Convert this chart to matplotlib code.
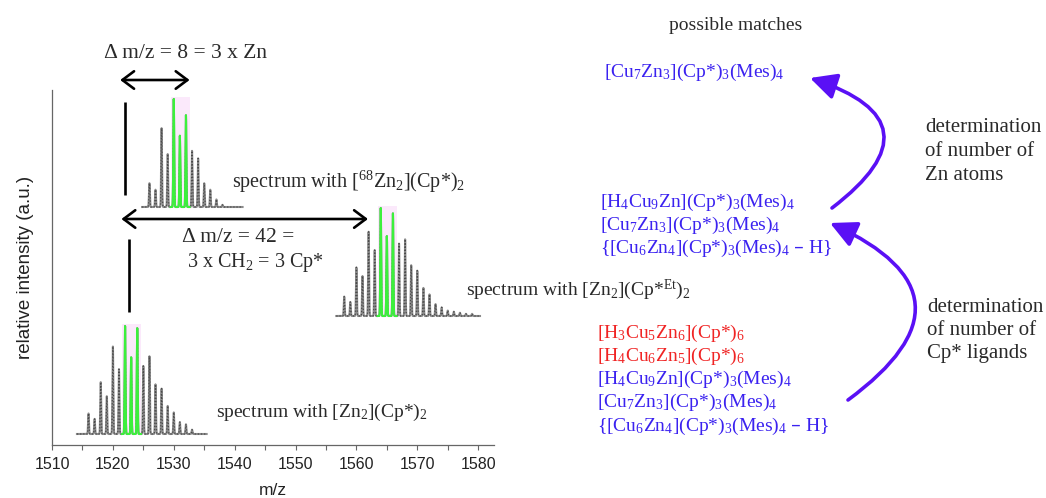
import numpy as np
import matplotlib
matplotlib.use("Agg")
import matplotlib.pyplot as plt
from matplotlib.patches import FancyArrowPatch

plt.rcParams['mathtext.default'] = 'regular'
SERIF = ['Liberation Serif', 'DejaVu Serif']
SANS = ['Liberation Sans', 'DejaVu Sans']

# ---------------- data ----------------
mz_ticks = [1510, 1520, 1530, 1540, 1550, 1560, 1570, 1580]

# [Zn2](Cp*)2  (bottom spectrum)
zn_mz = [1516, 1517, 1518, 1519, 1520, 1521, 1522, 1523, 1524, 1525,
         1526, 1527, 1528, 1529, 1530, 1531, 1532, 1533]
zn_int = [19, 14, 48, 35, 81, 60, 100, 71, 98, 63, 72, 46, 42, 26, 20, 11, 9, 4]
zn_green = [1522, 1523, 1524]

# [68Zn2](Cp*)2  (top spectrum)
zn68_mz = [1526, 1527, 1528, 1529, 1530, 1531, 1532, 1533, 1534, 1535,
           1536, 1537, 1538]
zn68_int = [22, 16, 73, 49, 100, 66, 85, 52, 45, 22, 16, 7, 2]
zn68_green = [1530, 1531, 1532]

# [Zn2](Cp*Et)2  (middle spectrum)
et_mz = [1558, 1559, 1560, 1561, 1562, 1563, 1564, 1565, 1566, 1567, 1568,
         1569, 1570, 1571, 1572, 1573, 1574, 1575, 1576, 1577, 1578, 1579]
et_int = [18, 13, 45, 37, 78, 61, 100, 74, 95, 67, 71, 47, 42, 26, 20, 11,
          8, 5, 4, 3, 2, 2]
et_green = [1564, 1565, 1566]

matches_top = ["[Cu$_7$Zn$_3$](Cp*)$_3$(Mes)$_4$"]
matches_mid = ["[H$_4$Cu$_9$Zn](Cp*)$_3$(Mes)$_4$",
               "[Cu$_7$Zn$_3$](Cp*)$_3$(Mes)$_4$",
               "{[Cu$_6$Zn$_4$](Cp*)$_3$(Mes)$_4$ \u2013 H}"]
matches_bot_red = ["[H$_3$Cu$_5$Zn$_6$](Cp*)$_6$",
                   "[H$_4$Cu$_6$Zn$_5$](Cp*)$_6$"]
matches_bot_blue = ["[H$_4$Cu$_9$Zn](Cp*)$_3$(Mes)$_4$",
                    "[Cu$_7$Zn$_3$](Cp*)$_3$(Mes)$_4$",
                    "{[Cu$_6$Zn$_4$](Cp*)$_3$(Mes)$_4$ \u2013 H}"]

# ---------------- layout ----------------
W, H = 1046, 498
fig = plt.figure(figsize=(W / 100, H / 100), dpi=100)
fig.patch.set_facecolor('white')


def P(x, y):
    return (x / W, 1 - y / H)


ax = fig.add_axes([52 / W, 53 / H, 442 / W, 355 / H])
ax.set_xlim(1510, 1582.6)
ax.set_ylim(0, 355)
for s in ['top', 'right']:
    ax.spines[s].set_visible(False)
for s in ['left', 'bottom']:
    ax.spines[s].set_color('#666666')
    ax.spines[s].set_linewidth(0.9)
ax.set_yticks([])
ax.set_xticks(mz_ticks)
ax.set_xticks([t + 5 for t in mz_ticks[:-1]], minor=True)
ax.tick_params(axis='x', which='both', direction='out', length=3.5,
               width=0.8, color='#666666', labelsize=11.5, pad=5,
               labelcolor='#222222')
for lab in ax.get_xticklabels():
    lab.set_family(SANS)
ax.set_xlabel('m/z', family=SANS, fontsize=12.5, color='#222222', labelpad=8)
ax.set_ylabel('relative intensity (a.u.)', family=SANS, fontsize=13.5,
              color='#222222', labelpad=13)

SCALE = 1.08


def draw_spectrum(mz, inten, green, base, x0, x1):
    mz = np.asarray(mz, float)
    inten = np.asarray(inten, float)
    x = np.linspace(x0, x1, 6000)
    y = base + (inten[:, None] * SCALE *
                np.exp(-0.5 * ((x[None, :] - mz[:, None]) / 0.07) ** 2)).sum(0)
    g0, g1 = min(green) - 0.5, max(green) + 0.6
    gmax = inten[np.isin(mz, green)].max() * SCALE
    ax.fill_between([g0, g1], [base, base], [base + gmax + 2] * 2,
                    color='#fbe9fb', lw=0, zorder=1)
    ax.plot(x, y, color='#8c8c8c', lw=1.5, zorder=2)
    ax.plot(x, y, color='#4a4a4a', lw=0.9, ls=(0, (1, 1.5)), zorder=3)
    m = (x >= g0) & (x <= g1)
    ax.plot(x[m], y[m], color='#3cf03c', lw=1.5, zorder=4)


draw_spectrum(zn_mz, zn_int, zn_green, 11, 1514.1, 1535.4)
draw_spectrum(et_mz, et_int, et_green, 129, 1556.7, 1580.3)
draw_spectrum(zn68_mz, zn68_int, zn68_green, 238, 1524.8, 1541.3)

# vertical guide lines
ax.plot([1522.0, 1522.0], [250, 343], color='black', lw=1.9,
        solid_capstyle='butt', zorder=5)
ax.plot([1522.57, 1522.57], [133, 206], color='black', lw=1.9,
        solid_capstyle='butt', zorder=5)

# double arrows
for y, xa, xb in [(365, 1521.2, 1532.6), (226, 1521.4, 1561.9)]:
    ax.annotate('', xy=(xa, y), xytext=(xb, y),
                arrowprops=dict(arrowstyle='<->,head_length=0.6,head_width=0.45',
                                lw=1.9, color='black', shrinkA=0, shrinkB=0,
                                mutation_scale=14),
                annotation_clip=False)

TXT = '#2a2a2a'
fs = 14
fig.text(*P(186, 53), '\u0394 m/z = 8 = 3 x Zn', family=SERIF, fontsize=15.5,
         color=TXT, ha='center', va='center')
fig.text(*P(182, 238), '\u0394 m/z = 42 =', family=SERIF, fontsize=15.5,
         color=TXT, ha='left', va='center')
fig.text(*P(187, 262), '3 x CH$_2$ = 3 Cp*', family=SERIF, fontsize=14.5,
         color=TXT, ha='left', va='center')
fig.text(*P(232, 182), 'spectrum with [$^{68}$Zn$_2$](Cp*)$_2$', family=SERIF,
         fontsize=14.5, color=TXT, ha='left', va='center')
fig.text(*P(466, 290), 'spectrum with [Zn$_2$](Cp*$^{Et}$)$_2$', family=SERIF,
         fontsize=fs, color=TXT, ha='left', va='center')
fig.text(*P(216, 412), 'spectrum with [Zn$_2$](Cp*)$_2$', family=SERIF,
         fontsize=fs, color=TXT, ha='left', va='center')

# right-hand side
fig.text(*P(736, 25), 'possible matches', family=SERIF, fontsize=fs,
         color=TXT, ha='center', va='center')
BLUE = '#3b22f0'
RED = '#f02424'
LS = 23.3
for i, t in enumerate(matches_top):
    fig.text(*P(604, 72 + i * LS), t, family=SERIF, fontsize=fs, color=BLUE,
             ha='left', va='center')
for i, t in enumerate(matches_mid):
    fig.text(*P(600, 202 + i * LS), t, family=SERIF, fontsize=fs, color=BLUE,
             ha='left', va='center')
for i, t in enumerate(matches_bot_red):
    fig.text(*P(597, 333 + i * LS), t, family=SERIF, fontsize=fs, color=RED,
             ha='left', va='center')
for i, t in enumerate(matches_bot_blue):
    fig.text(*P(597, 333 + (i + 2) * LS), t, family=SERIF, fontsize=fs,
             color=BLUE, ha='left', va='center')

for i, t in enumerate(['determination', 'of number of', 'Zn atoms']):
    fig.text(*P(925, 128 + i * 24), t, family=SERIF, fontsize=15, color=TXT,
             ha='left', va='center')
for i, t in enumerate(['determination', 'of number of', 'Cp* ligands']):
    fig.text(*P(927, 307 + i * 23), t, family=SERIF, fontsize=15, color=TXT,
             ha='left', va='center')

ARROW = '#5a10f5'
for tail, tip, rad in [((832, 208), (810, 78), 0.95),
                       ((848, 400), (830, 223), 0.85)]:
    arr = FancyArrowPatch(P(*tail), P(*tip), transform=fig.transFigure,
                          connectionstyle=f'arc3,rad={rad}',
                          arrowstyle='-|>,head_length=1.0,head_width=0.5',
                          mutation_scale=16, lw=2.6, color=ARROW,
                          shrinkA=0, shrinkB=0)
    fig.add_artist(arr)

fig.savefig('out.png', dpi=100, facecolor='white')
